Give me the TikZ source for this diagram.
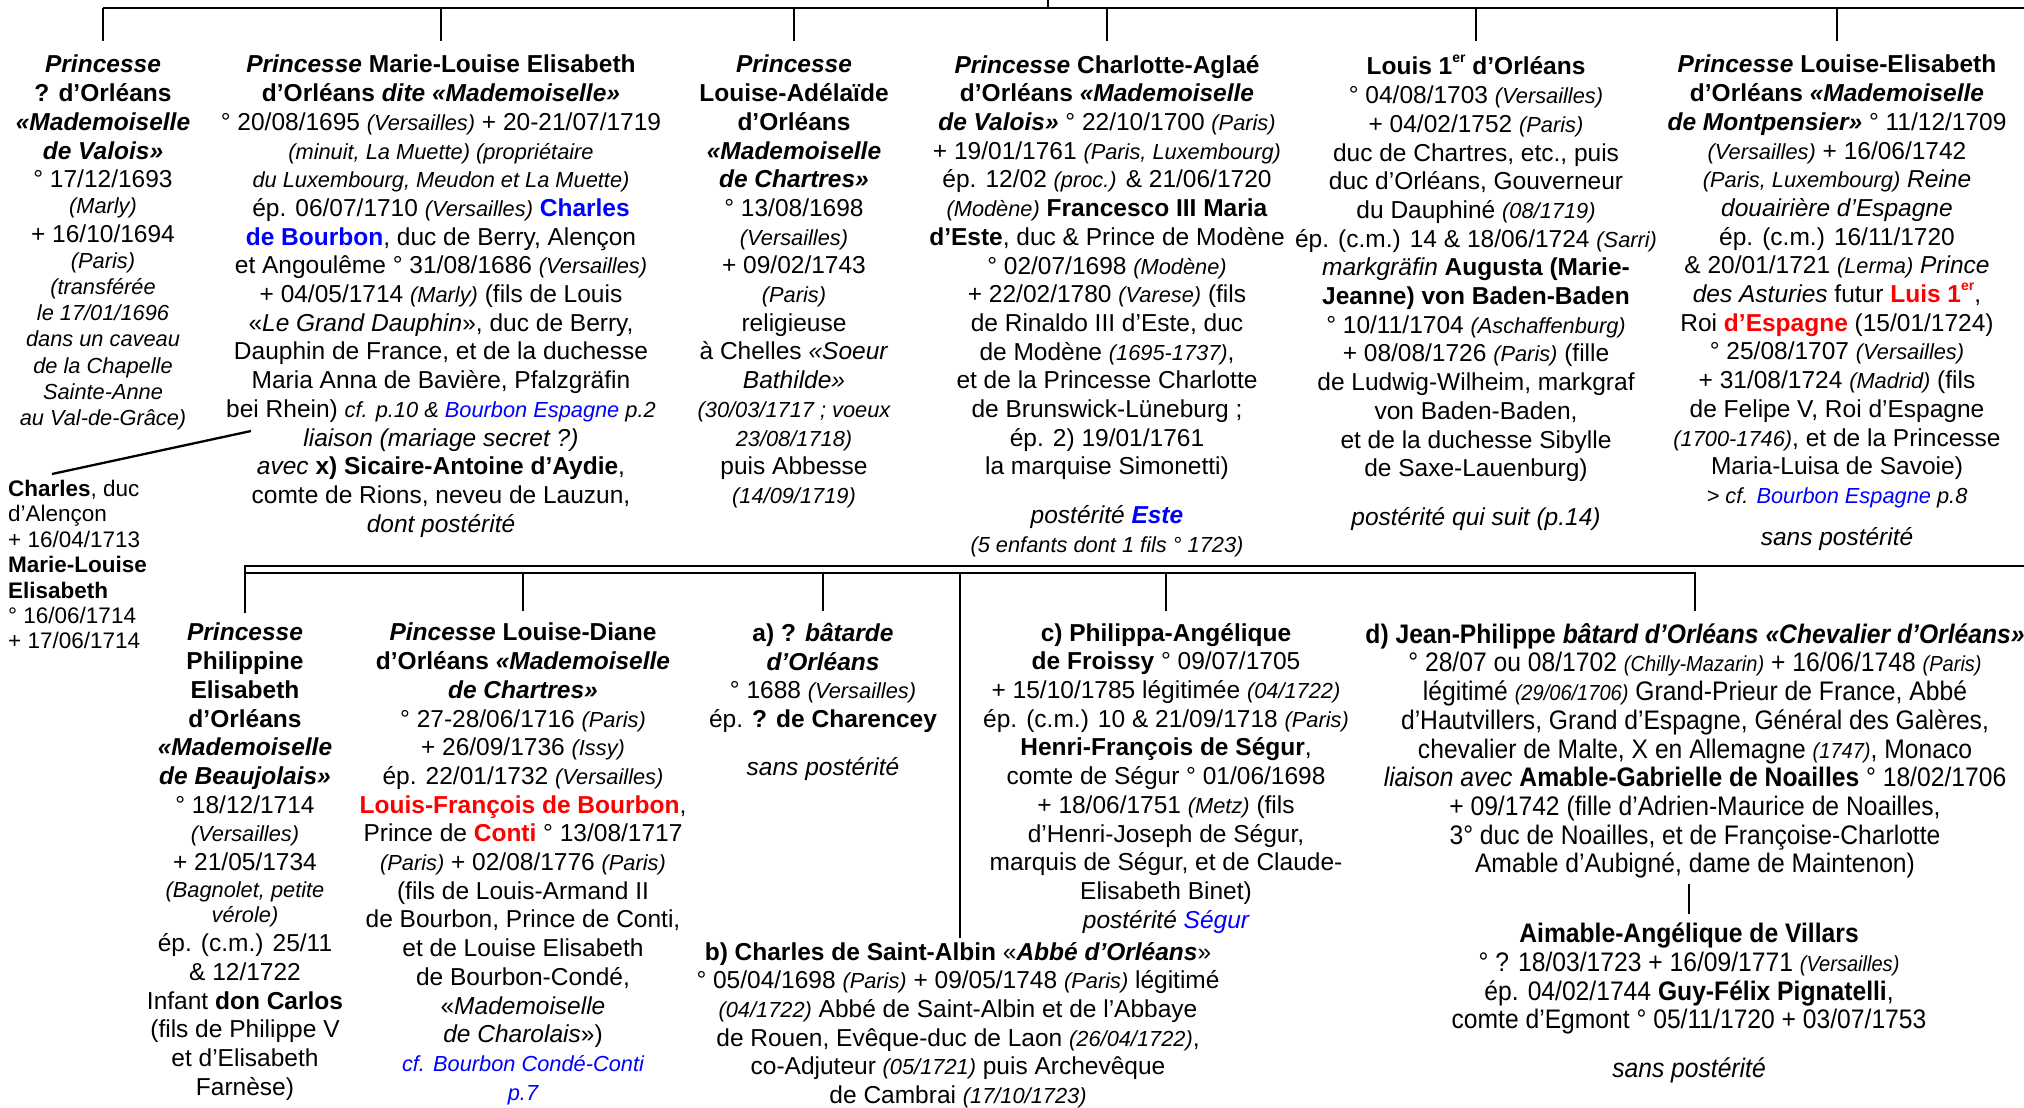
\documentclass[tikz,border=0pt]{standalone}
\usepackage{fontspec}
\setmainfont{Liberation Sans}
\newfontfamily\narrowfont[FakeStretch=0.92]{Liberation Sans}
\usetikzlibrary{calc}
\definecolor{lblue}{RGB}{0,0,255}
\definecolor{lred}{RGB}{255,0,0}
\newcommand\mainsz{\fontsize{24.5}{28.7}\selectfont}
\newcommand\narrowsz{\fontsize{26.8}{28.7}\selectfont}
\newcommand\sm[1]{{\fontsize{21.8}{28.7}\selectfont\itshape #1}}
\newcommand\bi[1]{\textbf{\textit{#1}}}
\newcommand\lb[1]{\textcolor{lblue}{#1}}
\newcommand\lr[1]{\textcolor{lred}{#1}}
\newcommand\ersup{\raisebox{0.5em}{\fontsize{14}{14}\selectfont er}}
\begin{document}
\begin{tikzpicture}[x=1pt,y=-1pt,
  person/.style={align=center,inner sep=0pt,anchor=north,font=\mainsz},
  narrowperson/.style={align=center,inner sep=0pt,anchor=north,font={\narrowfont\narrowsz}},
  link/.style={line width=2.3pt}]
\useasboundingbox (0,0) rectangle (2024,1108);
\fill[white] (0,0) rectangle (2024,1108);

% ---------- top row ----------
\node[person] (c1) at (103,55) {%
\bi{Princesse}\\
\textbf{? d’Orléans}\\
\bi{«Mademoiselle}\\
\bi{de Valois»}\\
° 17/12/1693\\[-2.6pt]
\sm{(Marly)}\\
+ 16/10/1694\\[-2.6pt]
\sm{(Paris)}\\[-2.6pt]
\sm{(transférée}\\[-2.6pt]
\sm{le 17/01/1696}\\[-2.6pt]
\sm{dans un caveau}\\[-2.6pt]
\sm{de la Chapelle}\\[-2.6pt]
\sm{Sainte-Anne}\\[-2.6pt]
\sm{au Val-de-Grâce)}};

\node[person] (c2) at (441,55) {%
\textbf{\textit{Princesse} Marie-Louise Elisabeth}\\
\textbf{d’Orléans \textit{dite «Mademoiselle»}}\\
° 20/08/1695 \sm{(Versailles)} + 20-21/07/1719\\
\sm{(minuit, La Muette) (propriétaire}\\
\sm{du Luxembourg, Meudon et La Muette)}\\
ép. 06/07/1710 \sm{(Versailles)} \textbf{\lb{Charles}}\\
\textbf{\lb{de Bourbon}}, duc de Berry, Alençon\\
et Angoulême ° 31/08/1686 \sm{(Versailles)}\\
+ 04/05/1714 \sm{(Marly)} (fils de Louis\\
«\textit{Le Grand Dauphin}», duc de Berry,\\
Dauphin de France, et de la duchesse\\
Maria Anna de Bavière, Pfalzgräfin\\
bei Rhein) \sm{cf. p.10 \& \lb{Bourbon Espagne} p.2}\\
\textit{liaison (mariage secret ?)}\\
\textit{avec} \textbf{x) Sicaire-Antoine d’Aydie},\\
comte de Rions, neveu de Lauzun,\\
\textit{dont postérité}};

\node[person] (c3) at (794,55) {%
\bi{Princesse}\\
\textbf{Louise-Adélaïde}\\
\textbf{d’Orléans}\\
\bi{«Mademoiselle}\\
\bi{de Chartres»}\\
° 13/08/1698\\
\sm{(Versailles)}\\
+ 09/02/1743\\
\sm{(Paris)}\\
religieuse\\
à Chelles \textit{«Soeur}\\
\textit{Bathilde»}\\
\sm{(30/03/1717 ; voeux}\\
\sm{23/08/1718)}\\
puis Abbesse\\
\sm{(14/09/1719)}};

\node[person] (c4) at (1107,55) {%
\textbf{\textit{Princesse} Charlotte-Aglaé}\\
\textbf{d’Orléans \textit{«Mademoiselle}}\\
\bi{de Valois»} ° 22/10/1700 \sm{(Paris)}\\
+ 19/01/1761 \sm{(Paris, Luxembourg)}\\
ép. 12/02 \sm{(proc.)} \& 21/06/1720\\
\sm{(Modène)} \textbf{Francesco III Maria}\\
\textbf{d’Este}, duc \& Prince de Modène\\
° 02/07/1698 \sm{(Modène)}\\
+ 22/02/1780 \sm{(Varese)} (fils\\
de Rinaldo III d’Este, duc\\
de Modène \sm{(1695-1737)},\\
et de la Princesse Charlotte\\
de Brunswick-Lüneburg ;\\
ép. 2) 19/01/1761\\
la marquise Simonetti)\\[20pt]
\textit{postérité} \bi{\lb{Este}}\\
\sm{(5 enfants dont 1 fils ° 1723)}};

\node[person] (c5) at (1476,55) {%
\textbf{Louis 1\ersup{} d’Orléans}\\
° 04/08/1703 \sm{(Versailles)}\\
+ 04/02/1752 \sm{(Paris)}\\
duc de Chartres, etc., puis\\
duc d’Orléans, Gouverneur\\
du Dauphiné \sm{(08/1719)}\\
ép. (c.m.) 14 \& 18/06/1724 \sm{(Sarri)}\\
\textit{markgräfin} \textbf{Augusta (Marie-}\\
\textbf{Jeanne) von Baden-Baden}\\
° 10/11/1704 \sm{(Aschaffenburg)}\\
+ 08/08/1726 \sm{(Paris)} (fille\\
de Ludwig-Wilheim, markgraf\\
von Baden-Baden,\\
et de la duchesse Sibylle\\
de Saxe-Lauenburg)\\[20pt]
\textit{postérité qui suit (p.14)}};

\node[person] (c6) at (1837,55) {%
\textbf{\textit{Princesse} Louise-Elisabeth}\\
\textbf{d’Orléans \textit{«Mademoiselle}}\\
\bi{de Montpensier»} ° 11/12/1709\\
\sm{(Versailles)} + 16/06/1742\\
\sm{(Paris, Luxembourg)} \textit{Reine}\\
\textit{douairière d’Espagne}\\
ép. (c.m.) 16/11/1720\\
\& 20/01/1721 \sm{(Lerma)} \textit{Prince}\\
\textit{des Asturies} futur \textbf{\lr{Luis 1\ersup}},\\
Roi \textbf{\lr{d’Espagne}} (15/01/1724)\\
° 25/08/1707 \sm{(Versailles)}\\
+ 31/08/1724 \sm{(Madrid)} (fils\\
de Felipe V, Roi d’Espagne\\
\sm{(1700-1746)}, et de la Princesse\\
Maria-Luisa de Savoie)\\
\sm{> cf. \lb{Bourbon Espagne} p.8}\\[13pt]
\textit{sans postérité}};

% left block (children of Marie-Louise Elisabeth)
\node[align=left,inner sep=0pt,anchor=north west,font=\fontsize{22.5}{25.4}\selectfont] (kids) at (8,480) {%
\textbf{Charles}, duc\\
d’Alençon\\
+ 16/04/1713\\
\textbf{Marie-Louise}\\
\textbf{Elisabeth}\\
° 16/06/1714\\
+ 17/06/1714};

% ---------- top connectors ----------
\coordinate (parent) at (1048,0);
\coordinate (busL) at (103,8);
\coordinate (busR) at (2024,8);
\draw[link] (parent) -- (parent |- busL);
\draw[link] (busL) -- (busR);
\foreach \n in {c1,c2,c3,c4,c5,c6}
  \draw[link] (\n |- busL) -- ++(0,33);
\coordinate (kidsline) at (251,431);
\coordinate (kidsend) at (52,474);
\draw[link] (kidsline) -- (kidsend);

% ---------- bottom row ----------
\node[person] (A) at (245,623) {%
\bi{Princesse}\\
\textbf{Philippine}\\
\textbf{Elisabeth}\\
\textbf{d’Orléans}\\
\bi{«Mademoiselle}\\
\bi{de Beaujolais»}\\
° 18/12/1714\\
\sm{(Versailles)}\\
+ 21/05/1734\\[-1.5pt]
\sm{(Bagnolet, petite}\\[-3.5pt]
\sm{vérole)}\\
ép. (c.m.) 25/11\\
\& 12/1722\\
Infant \textbf{don Carlos}\\
(fils de Philippe V\\
et d’Elisabeth\\
Farnèse)};

\node[person] (B) at (523,623) {%
\textbf{\textit{Pincesse} Louise-Diane}\\
\textbf{d’Orléans \textit{«Mademoiselle}}\\
\bi{de Chartres»}\\
° 27-28/06/1716 \sm{(Paris)}\\
+ 26/09/1736 \sm{(Issy)}\\
ép. 22/01/1732 \sm{(Versailles)}\\
\textbf{\lr{Louis-François de Bourbon}},\\
Prince de \textbf{\lr{Conti}} ° 13/08/1717\\
\sm{(Paris)} + 02/08/1776 \sm{(Paris)}\\
(fils de Louis-Armand II\\
de Bourbon, Prince de Conti,\\
et de Louise Elisabeth\\
de Bourbon-Condé,\\
«\textit{Mademoiselle}\\
\textit{de Charolais}»)\\
\sm{\lb{cf. Bourbon Condé-Conti}}\\
\sm{\lb{p.7}}};

\node[person] (a) at (823,623) {%
\textbf{a) ? \textit{bâtarde}}\\
\bi{d’Orléans}\\
° 1688 \sm{(Versailles)}\\
ép. \textbf{? de Charencey}\\[19pt]
\textit{sans postérité}};

\node[person] (c) at (1166,623) {%
\textbf{c) Philippa-Angélique}\\
\textbf{de Froissy} ° 09/07/1705\\
+ 15/10/1785 légitimée \sm{(04/1722)}\\
ép. (c.m.) 10 \& 21/09/1718 \sm{(Paris)}\\
\textbf{Henri-François de Ségur},\\
comte de Ségur ° 01/06/1698\\
+ 18/06/1751 \sm{(Metz)} (fils\\
d’Henri-Joseph de Ségur,\\
marquis de Ségur, et de Claude-\\
Elisabeth Binet)\\
\textit{postérité} \textit{\lb{Ségur}}};

\node[person] (b) at (958,942) {%
\textbf{b) Charles de Saint-Albin} «\bi{Abbé d’Orléans}»\\
° 05/04/1698 \sm{(Paris)} + 09/05/1748 \sm{(Paris)} légitimé\\
\sm{(04/1722)} Abbé de Saint-Albin et de l’Abbaye\\
de Rouen, Evêque-duc de Laon \sm{(26/04/1722)},\\
co-Adjuteur \sm{(05/1721)} puis Archevêque\\
de Cambrai \sm{(17/10/1723)}};

\node[narrowperson] (d) at (1695,623) {%
\textbf{d) Jean-Philippe \textit{bâtard d’Orléans «Chevalier d’Orléans»}}\\
° 28/07 ou 08/1702 \sm{(Chilly-Mazarin)} + 16/06/1748 \sm{(Paris)}\\
légitimé \sm{(29/06/1706)} Grand-Prieur de France, Abbé\\
d’Hautvillers, Grand d’Espagne, Général des Galères,\\
chevalier de Malte, X en Allemagne \sm{(1747)}, Monaco\\
\textit{liaison avec} \textbf{Amable-Gabrielle de Noailles} ° 18/02/1706\\
+ 09/1742 (fille d’Adrien-Maurice de Noailles,\\
3° duc de Noailles, et de Françoise-Charlotte\\
Amable d’Aubigné, dame de Maintenon)};

\node[narrowperson] (v) at (1689,923) {%
\textbf{Aimable-Angélique de Villars}\\
° ? 18/03/1723 + 16/09/1771 \sm{(Versailles)}\\
ép. 04/02/1744 \textbf{Guy-Félix Pignatelli},\\
comte d’Egmont ° 05/11/1720 + 03/07/1753\\[20pt]
\textit{sans postérité}};

% ---------- bottom connectors ----------
\coordinate (bbU) at (245,566);
\coordinate (bbUR) at (2024,566);
\coordinate (bbL) at (245,573);
\coordinate (bbLR) at (1695,573);
\draw[link] (A |- 0,613) -- (bbU) -- (bbUR);
\draw[link] (bbL) -- (bbLR) -- (d |- 0,611);
\foreach \n in {B,a,c}
  \draw[link] (\n |- bbL) -- (\n |- 0,611);
\draw[link] (960,573) -- (960,938);
\draw[link] (v |- 0,884) -- (v |- 0,914);
\end{tikzpicture}
\end{document}
